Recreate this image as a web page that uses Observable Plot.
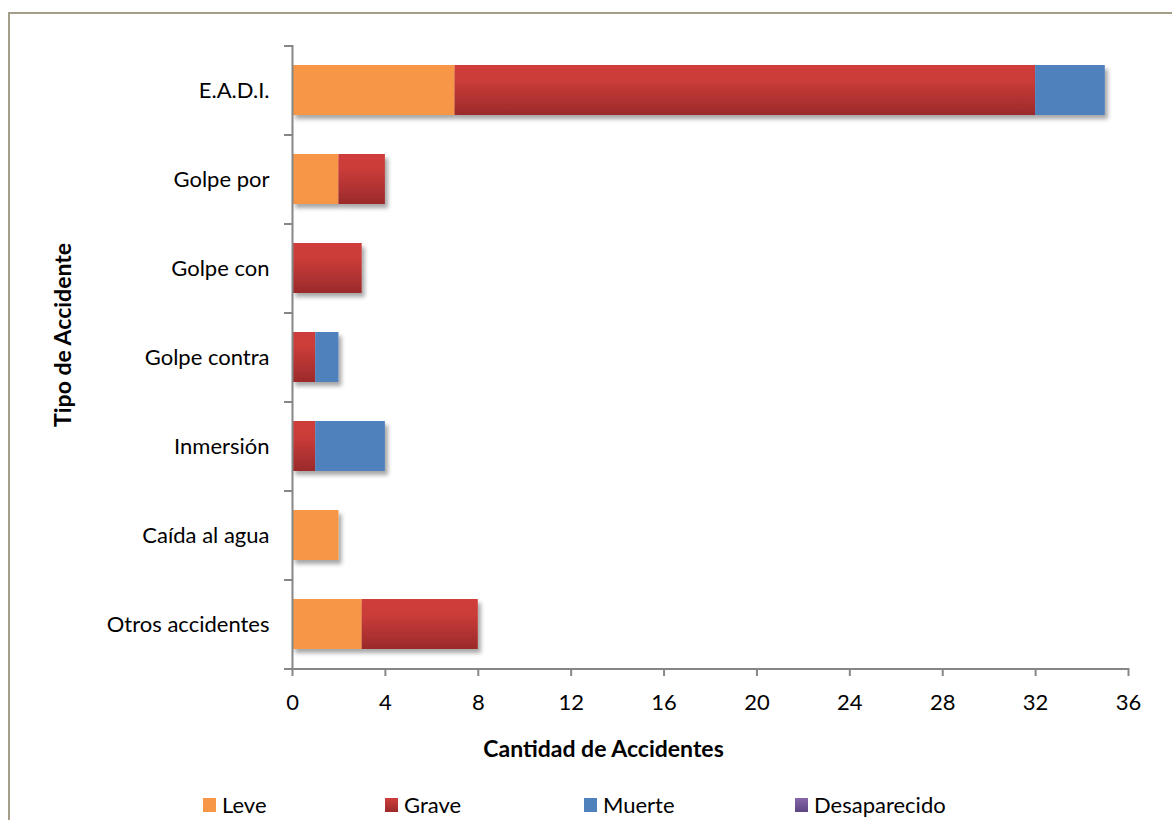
<!DOCTYPE html>
<html>
<head>
<meta charset="utf-8">
<script src="https://cdn.jsdelivr.net/npm/d3@7"></script>
<script src="https://cdn.jsdelivr.net/npm/@observablehq/plot@0.6"></script>
<style>
  html, body { margin: 0; padding: 0; background: #fff; }
  body { width: 1172px; height: 820px; overflow: hidden; position: relative; font-family: Lato, "Open Sans", sans-serif; }
  #frame { position: absolute; left: 8px; top: 12px; width: 1200px; height: 900px; border: 2px solid #a49d87; box-sizing: border-box; }
  #chart { position: absolute; left: 0; top: 0; }
  #legend { position: absolute; left: 0; top: 791px; width: 1172px; height: 28px; font-size: 22px; color: #000; }
  .item { position: absolute; top: 0; display: flex; align-items: center; white-space: nowrap; }
  .sw { width: 13px; height: 14px; margin-right: 6px; }
</style>
</head>
<body>
<div id="frame"></div>
<div id="chart"></div>
<div id="legend"></div>
<script>
const categories = ["E.A.D.I.", "Golpe por", "Golpe con", "Golpe contra", "Inmersión", "Caída al agua", "Otros accidentes"];
const series = ["Leve", "Grave", "Muerte", "Desaparecido"];
const leve   = [7, 2, 0, 0, 0, 2, 3];
const grave  = [25, 2, 3, 1, 1, 0, 5];
const muerte = [3, 0, 0, 1, 3, 0, 0];
const desaparecido = [0, 0, 0, 0, 0, 0, 0];
const xTicks = [0, 4, 8, 12, 16, 20, 24, 28, 32, 36];
const xTitle = "Cantidad de Accidentes";
const yTitle = "Tipo de Accidente";

const seriesValues = [leve, grave, muerte, desaparecido];
const fills = {Leve: "#f79646", Grave: "url(#gradGrave)", Muerte: "#4f81bd", Desaparecido: "url(#gradDes)"};
const data = [];
categories.forEach((c, i) => series.forEach((s, j) => {
  if (seriesValues[j][i] > 0) data.push({cat: c, serie: s, value: seriesValues[j][i]});
}));

const W = 1172, H = 770, mL = 292, mR = 44, mT = 45, mB = 102;
const step = (H - mT - mB) / categories.length;

const defs = () => {
  const d = d3.create("svg:defs");
  const g1 = d.append("linearGradient").attr("id", "gradGrave").attr("x1", 0).attr("y1", 0).attr("x2", 0).attr("y2", 1);
  g1.append("stop").attr("offset", "0").attr("stop-color", "#cf3d3a");
  g1.append("stop").attr("offset", "0.3").attr("stop-color", "#cb3c39");
  g1.append("stop").attr("offset", "1").attr("stop-color", "#9b2a2b");
  const g2 = d.append("linearGradient").attr("id", "gradDes").attr("x1", 0).attr("y1", 0).attr("x2", 0).attr("y2", 1);
  g2.append("stop").attr("offset", "0").attr("stop-color", "#8767ab");
  g2.append("stop").attr("offset", "1").attr("stop-color", "#5d4580");
  const f = d.append("filter").attr("id", "shadow").attr("x", "-10%").attr("y", "-20%").attr("width", "130%").attr("height", "160%");
  f.append("feDropShadow").attr("dx", 3).attr("dy", 4).attr("stdDeviation", 2.2).attr("flood-color", "#000").attr("flood-opacity", 0.35);
  return d.node();
};

const plot = Plot.plot({
  width: W, height: H,
  marginLeft: mL, marginRight: mR, marginTop: mT, marginBottom: mB,
  style: {fontFamily: "Lato, 'Open Sans', sans-serif", fontSize: "22px", color: "#000", background: "transparent"},
  x: {domain: [0, 36], ticks: xTicks, label: null},
  y: {domain: categories, paddingInner: 0.44, paddingOuter: 0.22, label: null},
  marks: [
    defs,
    Plot.barX(data, Plot.stackX({y: "cat", x: "value", fill: d => fills[d.serie], order: series})),
    Plot.ruleX([0], {stroke: "#868686", strokeWidth: 2}),
    Plot.ruleY(categories, {y: d => d, x1: 0, x2: 0, insetLeft: -8, dy: -step / 2, stroke: "#868686", strokeWidth: 2}),
    Plot.ruleY([categories[categories.length - 1]], {y: d => d, x1: 0, x2: 36, insetLeft: -8, dy: step / 2, stroke: "#868686", strokeWidth: 2}),
    Plot.axisX({ticks: xTicks, tickSize: 8, tickPadding: 18, stroke: "#868686", strokeWidth: 2, tickFormat: d => d, fill: "#000", fontSize: 22, label: null}),
    Plot.axisY({tickSize: 0, tickPadding: 23, fill: "#000", fontSize: 22, label: null}),
    Plot.text([xTitle], {text: d => d, frameAnchor: "bottom", textAnchor: "middle", dx: -107, dy: 88, fontWeight: "bold", fontSize: 23, fill: "#000"}),
    Plot.text([yTitle], {text: d => d, frameAnchor: "left", textAnchor: "middle", dx: -229, dy: -22, rotate: -90, fontWeight: "bold", fontSize: 23, fill: "#000"})
  ]
});
d3.select(plot).selectAll("g[aria-label='bar']").attr("filter", "url(#shadow)");
document.getElementById("chart").appendChild(plot);

const legend = d3.select("#legend");
const legendLeft = [203, 385, 584, 795];
const swFill = {Leve: "#f79646", Grave: "linear-gradient(#cf3d3a, #9b2a2b)", Muerte: "#4f81bd", Desaparecido: "linear-gradient(#8767ab, #5d4580)"};
series.forEach((s, i) => {
  const it = legend.append("div").attr("class", "item").style("left", legendLeft[i] + "px");
  it.append("div").attr("class", "sw").style("background", swFill[s]);
  it.append("span").text(s);
});
</script>
</body>
</html>
